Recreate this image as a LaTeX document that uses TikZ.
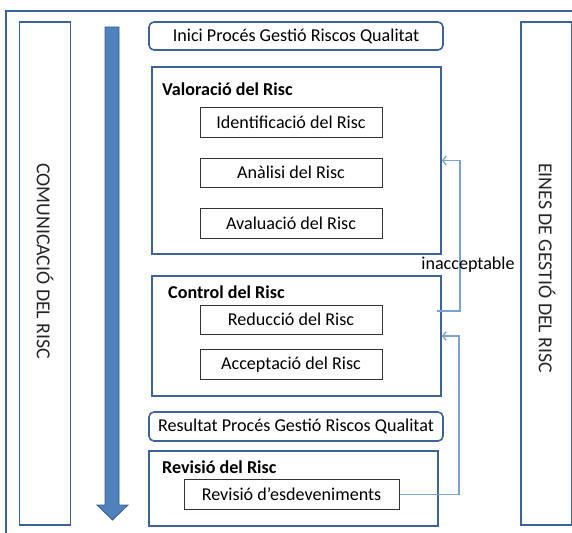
\documentclass[tikz,border=0pt]{standalone}
\usepackage{fontspec}
\setmainfont{Carlito}
\usetikzlibrary{arrows.meta}
\definecolor{frameblue}{RGB}{62,99,151}
\definecolor{arrowfill}{RGB}{79,129,189}
\definecolor{arrowline}{RGB}{56,93,138}
\definecolor{fbblue}{RGB}{122,162,214}
\begin{document}
\begin{tikzpicture}[x=1pt,y=-1pt,
  every node/.style={inner sep=0pt, font=\fontsize{18.1}{21}\selectfont},
  container/.style={draw=frameblue, line width=1.8pt},
  roundbox/.style={draw=frameblue, line width=1.6pt, rounded corners=5pt},
  stepbox/.style={draw=black!80, line width=1pt, minimum width=182pt, minimum height=29pt},
  column/.style={draw=frameblue, line width=1.4pt, minimum width=51pt, minimum height=503pt},
  coltext/.style={rotate=-90, anchor=west, font=\fontsize{19.8}{22}\selectfont, text=black!85},
  title/.style={anchor=west, font=\fontsize{18.1}{21}\selectfont\bfseries},
  fb/.style={draw=fbblue, line width=1.3pt, -{Straight Barb[length=3.5pt,width=9pt]}}
]
\useasboundingbox (0,0) rectangle (572,532);
% outer frame
\draw[frameblue, line width=1.3pt] (6,540) -- (6,11) -- (580,11);
% side columns
\node[column] (com) at (45,273.5) {};
\node[coltext] (comt) at (45,163) {COMUNICACIÓ DEL RISC};
\node[column] (ein) at (546.5,273.5) {};
\node[coltext] (eint) at (547,163) {EINES DE GESTIÓ DEL RISC};
% big arrow
\filldraw[fill=arrowfill, draw=arrowline, line width=0.8pt]
  (105,27) -- (119,27) -- (119,505) -- (128,505) -- (112.5,520) -- (97,505) -- (105,505) -- cycle;
% top and result boxes
\node[roundbox, minimum width=294pt, minimum height=28pt] (ini) at (296,36) {Inici Procés Gestió Riscos Qualitat};
\node[roundbox, minimum width=294pt, minimum height=29pt] (res) at (296,426.5) {Resultat Procés Gestió Riscos Qualitat};
% containers
\node[container, minimum width=289pt, minimum height=187pt] (val) at (296.5,160.5) {};
\node[title] (valt) at (162,89) {Valoració del Risc};
\node[container, minimum width=289pt, minimum height=120pt] (ctrl) at (296.5,336) {};
\node[title] (ctrlt) at (168,292) {Control del Risc};
\node[container, minimum width=289pt, minimum height=75pt] (rev) at (293.5,488.5) {};
\node[title] (revt) at (162,467) {Revisió del Risc};
% steps
\node[stepbox] (ide) at (291,122.5) {Identificació del Risc};
\node[stepbox] (ana) at (291,172.5) {Anàlisi del Risc};
\node[stepbox, minimum height=30pt] (ava) at (291,223.5) {Avaluació del Risc};
\node[stepbox] (red) at (291,319.5) {Reducció del Risc};
\node[stepbox, minimum height=30pt] (acc) at (291,364.5) {Acceptació del Risc};
\node[stepbox, minimum width=215pt, minimum height=30pt] (esd) at (291.5,494.5) {Revisió d’esdeveniments};
% feedback connectors
\coordinate (s1) at (437,311);
\draw[fb] (s1) -- (460,311) |- (val.east);
\node (inac) at (468,265) {inacceptable};
\draw[fb] (esd.east) -- (459,494.5) |- (ctrl.east);
\end{tikzpicture}
\end{document}
